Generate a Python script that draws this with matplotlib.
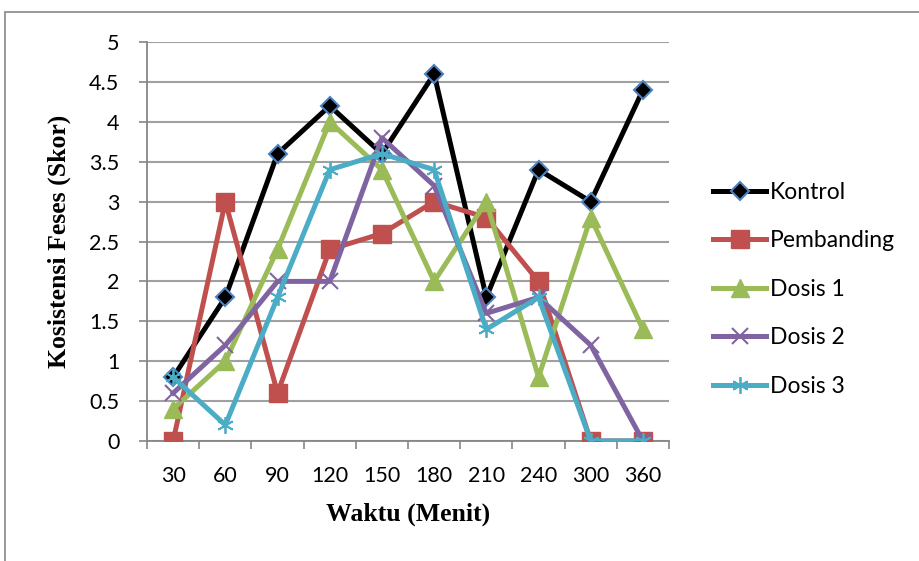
import matplotlib.pyplot as plt
from matplotlib.patches import Rectangle

# Skor konsistensi feses per waktu pengamatan
waktu = ["30", "60", "90", "120", "150", "180", "210", "240", "300", "360"]
kontrol = [0.8, 1.8, 3.6, 4.2, 3.6, 4.6, 1.8, 3.4, 3.0, 4.4]
pembanding = [0.0, 3.0, 0.6, 2.4, 2.6, 3.0, 2.8, 2.0, 0.0, 0.0]
dosis1 = [0.4, 1.0, 2.4, 4.0, 3.4, 2.0, 3.0, 0.8, 2.8, 1.4]
dosis2 = [0.6, 1.2, 2.0, 2.0, 3.8, 3.2, 1.6, 1.8, 1.2, 0.0]
dosis3 = [0.8, 0.2, 1.8, 3.4, 3.6, 3.4, 1.4, 1.8, 0.0, 0.0]

fig = plt.figure(figsize=(9.19, 5.61), dpi=100)
ax = fig.add_axes([0.160, 0.214, 0.568, 0.711])

x = list(range(len(waktu)))
lw = 3.6
ax.plot(x, kontrol, color="black", lw=lw, marker="D", ms=9.5,
        mfc="black", mec="#4F81BD", mew=1.5, label="Kontrol", zorder=3)
ax.plot(x, pembanding, color="#C0504D", lw=lw, marker="s", ms=13,
        mfc="#C0504D", mec="#C0504D", label="Pembanding", zorder=3)
ax.plot(x, dosis1, color="#9BBB59", lw=lw, marker="^", ms=13,
        mfc="#9BBB59", mec="#9BBB59", label="Dosis 1", zorder=3)
ax.plot(x, dosis2, color="#8064A2", lw=lw, marker="x", ms=11,
        mew=1.5, label="Dosis 2", zorder=3)
ax.plot(x, dosis3, color="#4BACC6", lw=lw, marker=(6, 2, 0), ms=12,
        mew=1.3, label="Dosis 3", zorder=3)

ax.set_xlim(-0.5, len(waktu) - 0.5)
ax.set_ylim(0, 5)
ax.set_yticks([i * 0.5 for i in range(11)])
ax.set_yticklabels(["0", "0.5", "1", "1.5", "2", "2.5", "3", "3.5", "4", "4.5", "5"])
ax.set_xticks(x)
ax.set_xticklabels(waktu)
ax.set_xticks([i - 0.5 for i in range(len(waktu) + 1)], minor=True)
ax.tick_params(axis="x", which="major", length=0, pad=18)
ax.tick_params(axis="x", which="minor", length=6, color="#868686", width=1.2)
ax.tick_params(axis="y", length=6, color="#868686", width=1.2, pad=14)
for lab in ax.get_xticklabels() + ax.get_yticklabels():
    lab.set_fontfamily("Lato")
    lab.set_fontsize(15.5)

ax.grid(axis="y", color="#A0A0A0", lw=1.5)
ax.set_axisbelow(True)
for s in ["top", "right"]:
    ax.spines[s].set_visible(False)
for s in ["left", "bottom"]:
    ax.spines[s].set_color("#868686")
    ax.spines[s].set_linewidth(1.3)

ax.set_xlabel("Waktu (Menit)", fontfamily="Liberation Serif", fontweight="bold",
              fontsize=18.5, labelpad=12)
ax.set_ylabel("Kosistensi Feses (Skor)", fontfamily="Liberation Serif",
              fontweight="bold", fontsize=18.5, labelpad=13)

fig.legend(loc="center left", bbox_to_anchor=(0.753, 0.484), frameon=False,
           prop={"family": "Lato", "size": 16.5}, handlelength=2.35,
           handletextpad=0.15, labelspacing=1.2)

# bingkai area grafik
fig.patches.append(Rectangle((5 / 919, -0.05), 1.0, 1 - 12 / 561 + 0.05,
                             transform=fig.transFigure, fill=False,
                             edgecolor="#868686", lw=1.2))

fig.savefig("out.png", dpi=100)
